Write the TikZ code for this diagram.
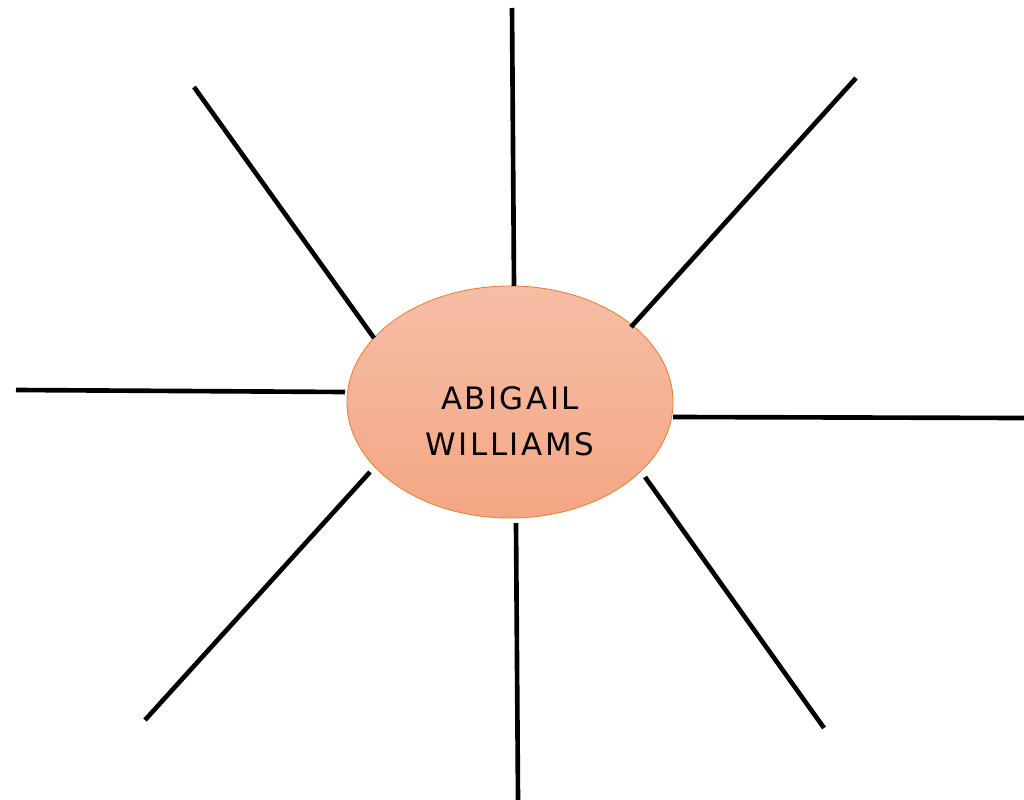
\documentclass[tikz,border=0pt]{standalone}
\usepackage{fontspec}
\newfontfamily\namefont[LetterSpace=8]{DejaVu Sans}
\definecolor{mEdge}{RGB}{237,125,49}
\definecolor{mTop}{RGB}{246,190,166}
\definecolor{mBottom}{RGB}{244,166,131}
\usetikzlibrary{shapes.geometric}

\begin{document}
\begin{tikzpicture}[x=0.025cm, y=-0.025cm,
    spoke/.style={line width=3.3pt, black}]
    \useasboundingbox (0,0) rectangle (1024,800);

    % centre
    \node[ellipse, draw=mEdge, line width=0.6pt, top color=mTop, bottom color=mBottom,
      minimum width=8.15cm, minimum height=5.8cm, inner sep=0pt] (abigail) at (510,402) {};
    \node[align=center, font=\namefont\fontsize{22}{33}\selectfont] (abigailname) at (510,421)
      {ABIGAIL\\WILLIAMS};

    % spoke ends
    \coordinate (nIn) at (514,286);  \coordinate (nOut) at (512,8);
    \coordinate (neIn) at (631,327); \coordinate (neOut) at (856,78);
    \coordinate (eIn) at (673,417);  \coordinate (eOut) at (1024,418);
    \coordinate (seIn) at (645,477); \coordinate (seOut) at (824,728);
    \coordinate (sIn) at (516,523);  \coordinate (sOut) at (518,800);
    \coordinate (swIn) at (370,472); \coordinate (swOut) at (145,720);
    \coordinate (wIn) at (345,392);  \coordinate (wOut) at (16,390);
    \coordinate (nwIn) at (374,338); \coordinate (nwOut) at (194,87);

    % spokes
    \draw[spoke] (nIn) -- (nOut);
    \draw[spoke] (neIn) -- (neOut);
    \draw[spoke] (eIn) -- (eOut);
    \draw[spoke] (seIn) -- (seOut);
    \draw[spoke] (sIn) -- (sOut);
    \draw[spoke] (swIn) -- (swOut);
    \draw[spoke] (wIn) -- (wOut);
    \draw[spoke] (nwIn) -- (nwOut);
  \end{tikzpicture}
\end{document}
